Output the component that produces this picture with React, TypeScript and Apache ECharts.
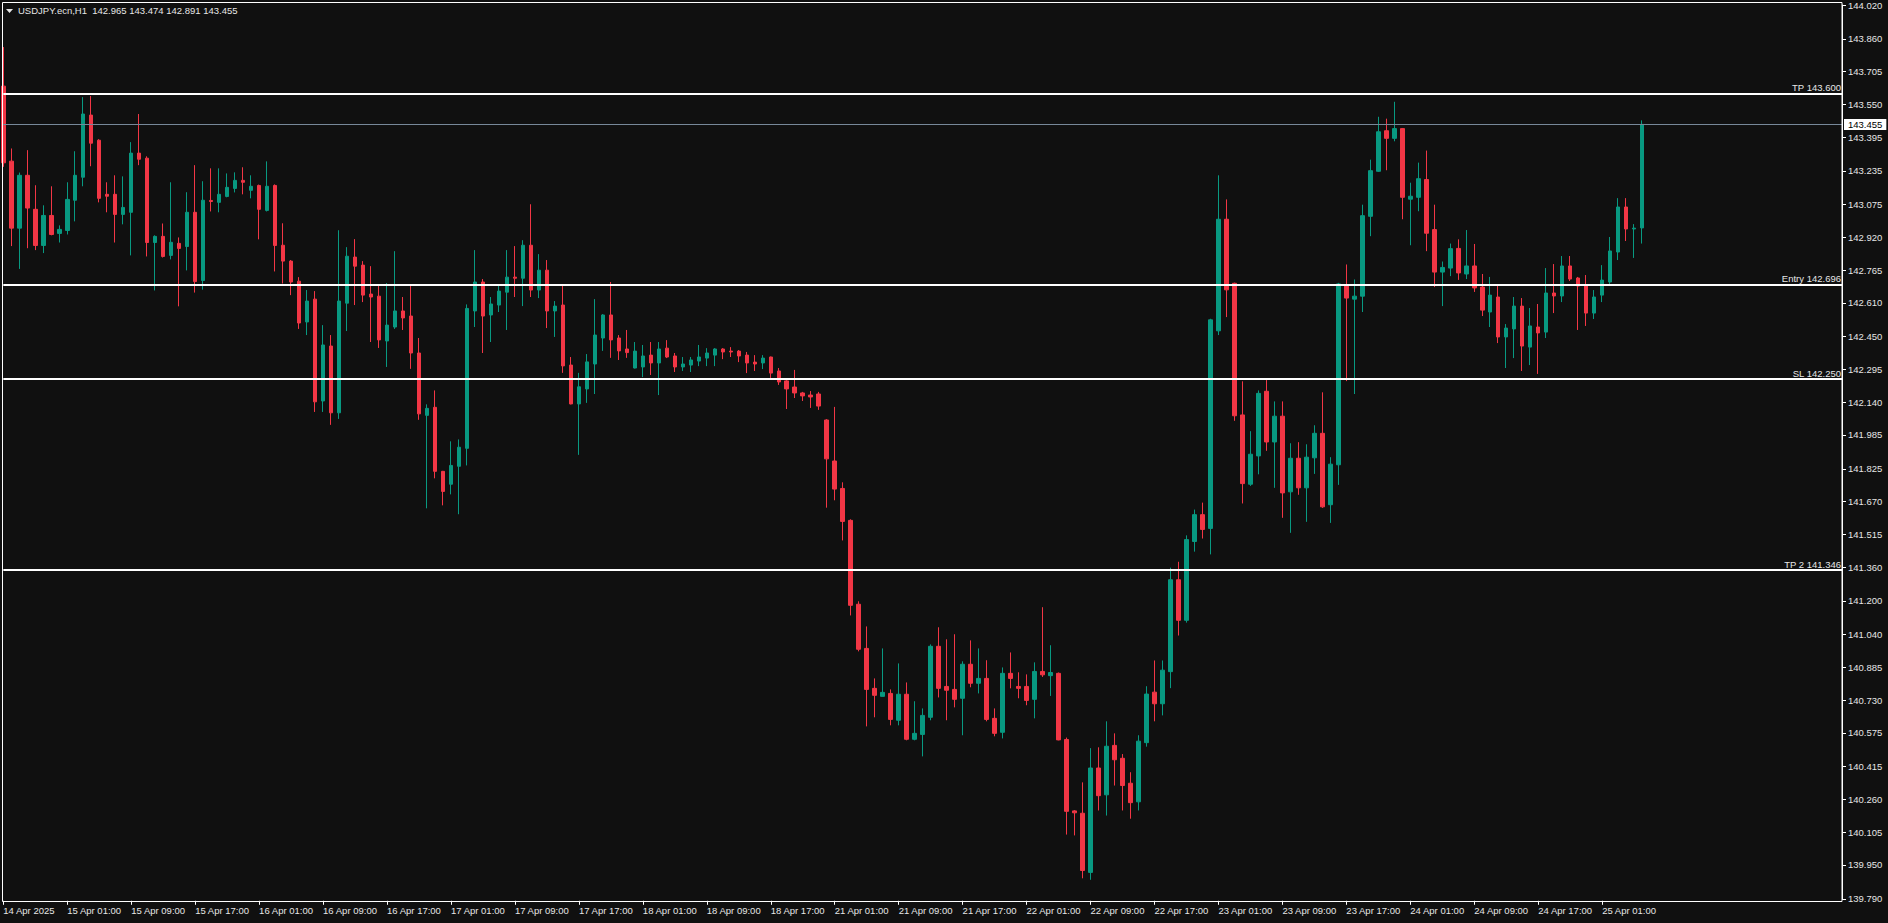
import { useEffect, useRef } from 'react';
import * as echarts from 'echarts';

const timeLabels = ['14 Apr 2025','15 Apr 01:00','15 Apr 09:00','15 Apr 17:00','16 Apr 01:00','16 Apr 09:00','16 Apr 17:00','17 Apr 01:00','17 Apr 09:00','17 Apr 17:00','18 Apr 01:00','18 Apr 09:00','18 Apr 17:00','21 Apr 01:00','21 Apr 09:00','21 Apr 17:00','22 Apr 01:00','22 Apr 09:00','22 Apr 17:00','23 Apr 01:00','23 Apr 09:00','23 Apr 17:00','24 Apr 01:00','24 Apr 09:00','24 Apr 17:00','25 Apr 01:00'];

const yTicks = [144.020,143.860,143.705,143.550,143.395,143.235,143.075,142.920,142.765,142.610,142.450,142.295,142.140,141.985,141.825,141.670,141.515,141.360,141.200,141.040,140.885,140.730,140.575,140.415,140.260,140.105,139.950,139.790];

const open = [143.636,143.281,142.964,143.214,143.053,142.882,143.024,142.939,142.953,143.096,
143.205,143.499,143.380,143.124,143.124,143.029,143.039,143.319,143.295,142.896,
142.925,142.835,142.892,142.877,143.039,142.716,143.095,143.086,143.114,143.152,
143.190,143.143,143.166,143.048,143.166,142.883,142.808,142.713,142.520,142.628,
142.146,142.406,142.090,142.609,142.827,142.789,142.652,142.642,142.430,142.496,
142.572,142.548,142.373,142.078,142.116,141.813,141.752,141.837,141.922,142.572,
142.709,142.553,142.600,142.661,142.732,142.727,142.883,142.671,142.765,142.572,
142.600,142.316,142.132,142.203,142.321,142.444,142.553,142.444,142.392,142.302,
142.307,142.363,142.326,142.396,142.359,142.307,142.316,142.335,142.349,142.363,
142.392,142.382,142.382,142.363,142.330,142.326,142.354,142.288,142.241,142.212,
142.184,142.174,142.179,142.056,141.862,141.732,141.581,141.184,140.975,140.786,
140.748,140.762,140.635,140.758,140.545,140.568,140.649,140.985,140.795,140.781,
140.739,140.900,140.810,140.833,140.644,140.578,140.857,140.795,140.795,140.734,
140.866,140.846,140.857,140.544,140.206,140.195,139.915,140.409,140.282,140.516,
140.455,140.337,140.249,140.529,140.768,140.713,140.865,141.300,141.108,141.481,
141.608,141.543,142.478,143.006,142.703,142.080,141.752,141.886,142.192,141.952,
142.074,141.716,141.875,141.735,141.877,141.993,141.655,141.844,142.694,142.628,
142.642,143.020,143.233,143.425,143.389,143.435,143.101,143.110,143.194,142.957,
142.756,142.775,142.868,142.747,142.785,142.685,142.567,142.638,142.449,142.487,
142.595,142.401,142.496,142.472,142.657,142.643,142.785,142.728,142.695,142.562,
142.647,142.709,142.851,143.064,142.960,142.965];

const high = [143.821,143.341,143.227,143.333,143.167,143.072,143.162,142.977,143.181,143.328,
143.584,143.589,143.385,143.181,143.214,143.209,143.371,143.504,143.304,142.930,
142.986,143.181,142.920,143.134,143.262,143.186,143.247,143.247,143.223,143.228,
143.252,143.214,143.170,143.280,143.171,142.987,142.813,142.732,142.671,142.666,
142.505,142.458,142.954,142.874,142.912,142.808,142.784,142.690,142.704,142.855,
142.638,142.690,142.444,142.130,142.196,141.815,141.955,141.964,142.603,142.860,
142.723,142.638,142.690,142.860,142.879,142.907,143.077,142.841,142.813,142.619,
142.690,142.354,142.279,142.368,142.628,142.557,142.709,142.458,142.482,142.425,
142.411,142.425,142.425,142.434,142.373,142.354,142.354,142.411,142.396,142.396,
142.396,142.401,142.387,142.378,142.363,142.363,142.356,142.302,142.245,142.293,
142.189,142.193,142.189,142.060,142.118,141.761,141.586,141.198,141.079,140.833,
140.975,140.781,140.904,140.814,140.725,140.691,140.994,141.075,141.018,141.042,
140.914,141.013,140.975,140.919,140.691,140.885,140.956,140.862,140.852,140.909,
141.170,140.990,140.861,140.553,140.210,140.341,140.503,140.507,140.630,140.573,
140.475,140.389,140.564,140.796,140.918,140.918,141.357,141.385,141.510,141.632,
141.665,142.535,143.214,143.100,142.706,142.239,142.003,142.196,142.245,142.144,
142.144,141.946,141.951,141.941,142.031,142.187,141.880,142.705,142.792,142.721,
143.075,143.288,143.491,143.482,143.562,143.438,143.179,143.274,143.331,143.075,
142.806,142.891,142.911,142.955,142.889,142.747,142.733,142.695,142.510,142.638,
142.633,142.586,142.605,142.775,142.794,142.832,142.832,142.733,142.742,142.671,
142.789,142.922,143.106,143.106,142.983,143.474];

const low = [143.254,142.879,142.771,142.869,142.860,142.846,142.930,142.896,142.934,142.996,
143.162,143.257,143.086,143.039,142.896,142.982,142.835,143.262,142.830,142.669,
142.825,142.816,142.594,142.764,142.659,142.673,143.043,143.039,143.110,143.133,
143.124,143.105,142.911,143.043,142.759,142.702,142.647,142.487,142.458,142.094,
142.094,142.033,142.061,142.477,142.600,142.614,142.425,142.397,142.307,142.487,
142.482,142.298,142.057,141.638,141.780,141.652,141.704,141.610,141.841,142.496,
142.373,142.425,142.567,142.482,142.638,142.595,142.638,142.633,142.491,142.449,
142.279,142.130,141.891,142.137,142.179,142.383,142.350,142.340,142.350,142.300,
142.259,142.269,142.174,142.349,142.283,142.288,142.283,142.311,142.311,142.311,
142.344,142.354,142.330,142.278,142.288,142.297,142.255,142.222,142.108,142.160,
142.146,142.113,142.104,141.641,141.676,141.486,141.131,140.961,140.606,140.649,
140.748,140.611,140.611,140.540,140.540,140.464,140.635,140.743,140.635,140.696,
140.564,140.791,140.762,140.630,140.559,140.549,140.786,140.739,140.706,140.644,
140.840,140.750,140.540,140.094,140.090,139.887,139.880,140.208,140.184,140.326,
140.208,140.169,140.208,140.510,140.630,140.658,140.787,141.036,141.097,141.433,
141.495,141.420,142.458,142.543,142.052,141.661,141.744,141.799,141.910,141.735,
141.593,141.522,141.702,141.574,141.801,141.640,141.569,141.749,142.240,142.179,
142.567,142.926,143.230,143.238,143.375,143.006,142.883,143.044,142.855,142.685,
142.595,142.737,142.719,142.723,142.662,142.548,142.496,142.420,142.302,142.349,
142.288,142.316,142.274,142.444,142.562,142.614,142.714,142.482,142.501,142.534,
142.614,142.690,142.813,142.903,142.823,142.891];

const close = [143.273,142.964,143.214,143.059,142.882,143.024,142.934,142.958,143.100,143.214,
143.504,143.366,143.105,143.115,143.029,143.062,143.319,143.290,142.896,142.925,
142.830,142.897,142.868,143.039,142.711,143.096,143.090,143.124,143.157,143.190,
143.181,143.162,143.053,143.162,142.882,142.808,142.709,142.515,142.619,142.142,
142.411,142.090,142.619,142.831,142.784,142.647,142.638,142.435,142.505,142.572,
142.539,142.373,142.085,142.111,141.813,141.718,141.841,141.927,142.584,142.709,
142.548,142.605,142.666,142.732,142.727,142.883,142.671,142.765,142.572,142.595,
142.312,142.132,142.213,142.331,142.458,142.553,142.435,142.383,142.375,142.382,
142.359,142.326,142.392,142.354,142.307,142.321,142.340,142.354,142.373,142.392,
142.378,142.378,142.359,142.326,142.321,142.349,142.278,142.236,142.203,142.184,
142.170,142.165,142.122,141.872,141.729,141.576,141.179,140.971,140.781,140.753,
140.767,140.639,140.758,140.545,140.573,140.658,140.985,140.786,140.777,140.734,
140.900,140.810,140.833,140.639,140.573,140.857,140.833,140.786,140.729,140.866,
140.850,140.861,140.542,140.204,140.197,139.924,140.409,140.278,140.512,140.448,
140.326,140.245,140.536,140.759,140.713,140.872,141.300,141.108,141.490,141.608,
141.538,142.530,143.006,142.672,142.076,141.755,141.894,142.182,141.952,142.074,
141.711,141.875,141.735,141.880,141.993,141.645,141.847,142.700,142.633,142.642,
143.023,143.236,143.420,143.389,143.435,143.110,143.115,143.198,142.940,142.756,
142.778,142.867,142.752,142.785,142.681,142.576,142.647,142.449,142.491,142.595,
142.406,142.501,142.468,142.657,142.643,142.785,142.723,142.690,142.562,142.638,
142.718,142.856,143.064,142.960,142.964,143.455];

const levelNames = ['TP', 'Entry', 'SL', 'TP 2'];
const levelValues = [143.6, 142.696, 142.25, 141.346];
const lastPrice = 143.455;
const symbolTitle = 'USDJPY.ecn,H1';
const lastBar = { o: 142.965, h: 143.474, l: 142.891, c: 143.455 };

const TOTAL_SLOTS = 231;
const FONT = "'Liberation Sans', Arial, sans-serif";
const TXT = '#e6e6e6';

export default function App() {
  const ref = useRef<HTMLDivElement>(null);
  useEffect(() => {
    const chart = echarts.init(ref.current!, null, { renderer: 'svg' });
    const categories = Array.from({ length: TOTAL_SLOTS }, (_, i) => String(i));
    const candles = open.map((o, i) => [o, close[i], low[i], high[i]]);
    const labelIdx = (i: number) => i % 8 === 0 && i / 8 < timeLabels.length;

    const markData: any[] = levelValues.map((v, k) => ({
      name: levelNames[k],
      yAxis: v,
      lineStyle: { color: '#ffffff', width: 2, type: 'solid' },
      label: {
        show: true,
        position: 'insideEndTop',
        distance: [1, 1],
        formatter: levelNames[k] + ' ' + v.toFixed(3),
        color: TXT,
        fontSize: 9.5,
        fontFamily: FONT,
      },
    }));
    markData.push({
      name: 'last',
      yAxis: lastPrice,
      lineStyle: { color: '#778899', width: 1, type: 'solid' },
      label: {
        show: true,
        position: 'end',
        distance: 2,
        formatter: lastPrice.toFixed(3),
        color: '#000000',
        backgroundColor: '#ffffff',
        padding: [1, 4, 0, 4],
        fontSize: 9.5,
        fontFamily: FONT,
      },
    });

    chart.setOption({
      animation: false,
      backgroundColor: '#101010',
      grid: { left: 3.3, right: 46, top: 4.2, bottom: 24.2, containLabel: false },
      xAxis: {
        type: 'category',
        data: categories,
        boundaryGap: false,
        offset: 2,
        axisLine: { show: false },
        axisTick: {
          show: true,
          length: 4,
          interval: (i: number) => labelIdx(i),
          lineStyle: { color: '#ffffff', width: 1 },
        },
        axisLabel: {
          interval: (i: number) => labelIdx(i),
          formatter: (_v: string, i: number) => (labelIdx(i) ? timeLabels[i / 8] : ''),
          align: 'left',
          margin: 5,
          color: TXT,
          fontSize: 9.5,
          fontFamily: FONT,
        },
        splitLine: { show: false },
      },
      yAxis: {
        type: 'value',
        position: 'right',
        min: 139.79,
        max: 144.02,
        scale: true,
        splitLine: { show: false },
        axisLine: { show: true, lineStyle: { color: '#ffffff', width: 1 } },
        axisTick: { show: true, length: 4, customValues: yTicks, lineStyle: { color: '#ffffff' } },
        axisLabel: {
          customValues: yTicks,
          formatter: (v: number) => v.toFixed(3),
          margin: 6,
          color: TXT,
          fontSize: 9.5,
          fontFamily: FONT,
        },
      },
      series: [
        {
          type: 'candlestick',
          data: candles,
          barWidth: 4,
          itemStyle: {
            color: '#089981',
            color0: '#f23645',
            borderColor: '#089981',
            borderColor0: '#f23645',
            borderWidth: 1,
          },
          markLine: {
            silent: true,
            symbol: ['none', 'none'],
            precision: 3,
            data: markData,
          },
        },
      ],
      graphic: [
        {
          type: 'rect',
          shape: { x: 2.5, y: 2.5, width: 1839.5, height: 899 },
          style: { fill: 'none', stroke: '#ffffff', lineWidth: 1 },
          silent: true,
          z: 10,
        },
        {
          type: 'polygon',
          shape: { points: [[6, 9], [13, 9], [9.5, 13]] },
          style: { fill: TXT },
          silent: true,
        },
        {
          type: 'text',
          left: 18,
          top: 5,
          style: {
            text: symbolTitle + '\u00a0\u00a0' + [lastBar.o, lastBar.h, lastBar.l, lastBar.c].map((v) => v.toFixed(3)).join(' '),
            fill: TXT,
            font: '9.5px ' + FONT,
          },
          silent: true,
        },
      ],
    });
    return () => chart.dispose();
  }, []);
  return <div ref={ref} style={{ position: 'absolute', left: 0, top: 0, width: 1888, height: 923 }} />;
}
